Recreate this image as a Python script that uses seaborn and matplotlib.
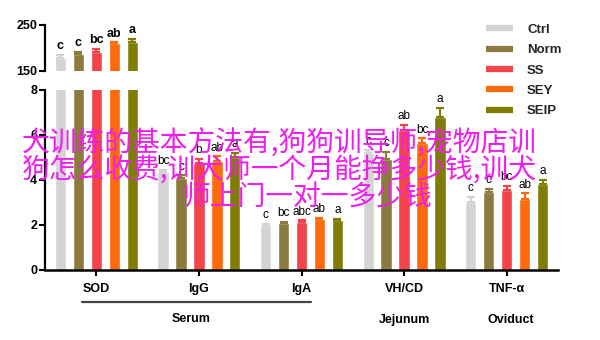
import matplotlib
matplotlib.use("Agg")
import matplotlib.pyplot as plt
import matplotlib.transforms as mtransforms
from matplotlib.container import BarContainer
from matplotlib.lines import Line2D
import seaborn as sns
import pandas as pd

# Groups on the x axis and the five treatment series
groups = ["SOD", "IgG", "IgA", "VH/CD", "TNF-α"]
series = ["Ctrl", "Norm", "SS", "SEY", "SEIP"]

# Mean values per series (SOD is on the 150-250 scale, the rest on 0-8)
ctrl_vals = [178, 4.35, 2.00, 5.20, 3.00]
norm_vals = [187, 4.10, 2.08, 4.95, 3.45]
ss_vals = [191, 4.75, 2.15, 6.20, 3.55]
sey_vals = [210, 4.85, 2.25, 5.65, 3.15]
seip_vals = [213, 5.00, 2.22, 6.80, 3.82]

# Upper error (SEM) per series
ctrl_err = [7, 0.10, 0.05, 0.15, 0.25]
norm_err = [4, 0.10, 0.05, 0.30, 0.15]
ss_err = [7, 0.20, 0.05, 0.25, 0.18]
sey_err = [2, 0.20, 0.05, 0.20, 0.25]
seip_err = [7, 0.20, 0.05, 0.40, 0.20]

# Significance letters
ctrl_sig = ["c", "bc", "c", "c", "c"]
norm_sig = ["c", "c", "bc", "c", "c"]
ss_sig = ["bc", "b", "abc", "ab", "bc"]
sey_sig = ["ab", "ab", "ab", "bc", "ab"]
seip_sig = ["a", "a", "a", "a", "a"]

tissues = ["Serum", "Jejunum", "Oviduct"]
watermark = ["犬训练的基本方法有,狗狗训导师,宠物店训",
             "狗怎么收费,训犬师一个月能挣多少钱,训犬",
             "师上门一对一多少钱"]

colors = ["#d4d4d4", "#8c7b3e", "#f24449", "#fd6a0c", "#7f7d06"]

values = [ctrl_vals, norm_vals, ss_vals, sey_vals, seip_vals]
errors = [ctrl_err, norm_err, ss_err, sey_err, seip_err]
letters = [ctrl_sig, norm_sig, ss_sig, sey_sig, seip_sig]

df = pd.DataFrame(
    [{"group": g, "series": s, "value": values[i][j]}
     for i, s in enumerate(series) for j, g in enumerate(groups)]
)

sns.set_theme(style="white")
plt.rcParams["font.family"] = ["Liberation Sans", "DejaVu Sans"]
plt.rcParams["font.weight"] = "bold"

fig = plt.figure(figsize=(6, 3.4), dpi=100)
ax_lo = fig.add_axes([0.075, 0.2059, 0.855, 0.5294])
ax_hi = fig.add_axes([0.075, 0.7912, 0.855, 0.1353])

for ax, ylim in ((ax_lo, (0, 8)), (ax_hi, (150, 250))):
    sns.barplot(data=df, x="group", y="value", hue="series",
                order=groups, hue_order=series, palette=colors,
                width=0.875, gap=0.37, errorbar=None, saturation=1,
                legend=False, ax=ax)
    ax.set_ylim(*ylim)
    ax.set_xlim(-0.5, 4.5)
    ax.set_xlabel("")
    ax.set_ylabel("")
    for side in ("top", "right"):
        ax.spines[side].set_visible(False)
    ax.spines["left"].set_linewidth(1.6)
    ax.spines["left"].set_color("black")
    ax.tick_params(axis="y", direction="out", length=4, width=1.5,
                   labelsize=9, pad=1.5, left=True, colors="black")

    bold = ax is ax_hi
    bar_sets = [c for c in ax.containers if isinstance(c, BarContainer)]
    for i, cont in enumerate(bar_sets):
        for bar in cont:
            xc = bar.get_x() + bar.get_width() / 2
            h = bar.get_height()
            j = int(round(xc))
            if not (ylim[0] < h <= ylim[1]):
                continue
            e = errors[i][j]
            ax.errorbar(xc, h, yerr=[[0], [e]], fmt="none", ecolor=colors[i],
                        elinewidth=1.6, capsize=3.2, capthick=1.6)
            ax.annotate(letters[i][j], (xc, h + e), xytext=(0, 2),
                        textcoords="offset points", ha="center", va="bottom",
                        fontsize=9 if bold else 8.5,
                        fontweight="bold" if bold else "normal",
                        color="black")

ax_lo.set_yticks([0, 2, 4, 6, 8])
ax_lo.spines["bottom"].set_linewidth(1.8)
ax_lo.spines["bottom"].set_color("black")
ax_lo.tick_params(axis="x", direction="out", length=4, width=1.5,
                  labelsize=9, pad=5.5, bottom=True, colors="black")

ax_hi.set_yticks([150, 250])
ax_hi.spines["bottom"].set_visible(False)
ax_hi.set_xticks([])

# Tissue grouping under the category labels
trans = mtransforms.blended_transform_factory(ax_lo.transData, ax_lo.transAxes)
ax_lo.plot([-0.14, 2.09], [-0.18, -0.18], color="#444444", lw=1.6,
           transform=trans, clip_on=False)
for x, y, name in ((0.92, -0.27, tissues[0]), (3.0, -0.28, tissues[1]),
                   (4.04, -0.277, tissues[2])):
    ax_lo.text(x, y, name, transform=trans, ha="center", va="center",
               fontsize=9, fontweight="bold", color="black")

handles = [Line2D([0], [0], color=c, lw=4.5, solid_capstyle="butt") for c in colors]
fig.legend(handles, series, loc="upper left", bbox_to_anchor=(0.795, 0.958),
           frameon=False, handlelength=2.0, handletextpad=1.1,
           labelspacing=0.62, borderpad=0.2,
           prop={"weight": "bold", "size": 9.5})

# Overlaid caption text
cjk = ["Noto Sans CJK SC", "DejaVu Sans"]
for k, (x0, yc) in enumerate(((22, 144), (22, 170), (182, 198))):
    fig.text(x0 / 600, 1 - yc / 340, watermark[k], family=cjk, fontsize=20,
             color="#f01cf0", ha="left", va="center", fontweight="medium")

fig.savefig("out.png", dpi=100)
